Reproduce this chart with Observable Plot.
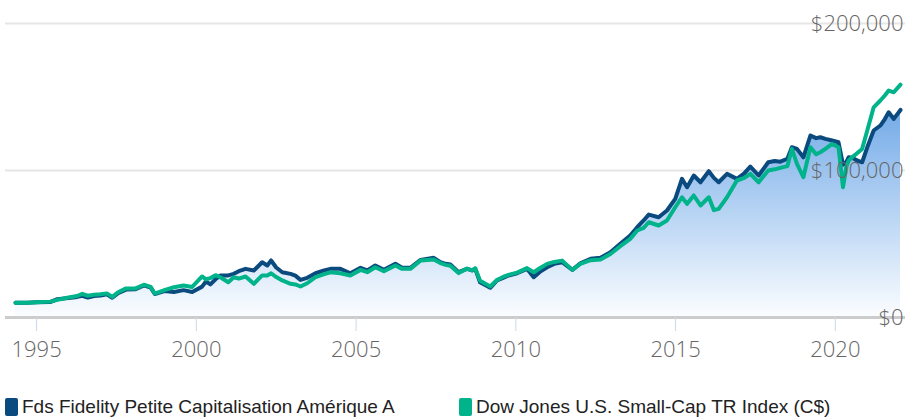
<!DOCTYPE html>
<html><head><meta charset="utf-8">
<script src="https://cdn.jsdelivr.net/npm/d3@7"></script>
<script src="https://cdn.jsdelivr.net/npm/@observablehq/plot@0.6"></script>
<style>
body{margin:0;background:#fff;width:905px;height:418px;position:relative;overflow:hidden}
#chart{position:absolute;left:0;top:0}
#legend{position:absolute;left:0;top:396px;width:905px;height:22px;font-family:"Liberation Sans",Arial,sans-serif;font-size:19px;color:#222}
.item{position:absolute;top:0;white-space:nowrap;display:flex;align-items:center;height:22px}
.sw{width:13px;height:18px;border-radius:2px;margin-right:4px;display:inline-block}
</style></head><body>
<div id="chart"></div>
<div id="legend"></div>
<script>
const years = [1994.34,1994.7,1995.0,1995.44,1995.65,1996.0,1996.27,1996.43,1996.6,1996.8,
1997.0,1997.2,1997.37,1997.55,1997.8,1998.1,1998.36,1998.57,1998.7,1999.0,
1999.3,1999.6,1999.87,2000.18,2000.3,2000.44,2000.6,2000.75,2001.0,2001.17,
2001.33,2001.54,2001.8,2002.06,2002.22,2002.34,2002.5,2002.69,2002.95,2003.1,
2003.26,2003.47,2003.73,2004.0,2004.2,2004.51,2004.82,2005.14,2005.35,2005.6,
2005.87,2006.23,2006.44,2006.7,2007.02,2007.43,2007.64,2007.8,2007.95,2008.21,
2008.47,2008.63,2008.73,2008.88,2009.2,2009.41,2009.6,2009.77,2010.04,2010.35,
2010.56,2010.75,2010.98,2011.2,2011.45,2011.77,2012.02,2012.34,2012.65,2012.96,
2013.27,2013.58,2013.8,2014.0,2014.16,2014.47,2014.73,2014.99,2015.2,2015.36,
2015.57,2015.78,2016.04,2016.2,2016.35,2016.61,2016.92,2017.15,2017.34,2017.6,
2017.9,2018.1,2018.28,2018.5,2018.64,2018.8,2019.0,2019.22,2019.4,2019.53,
2019.69,2019.9,2020.1,2020.24,2020.35,2020.42,2020.55,2020.68,2020.84,2021.0,
2021.2,2021.41,2021.55,2021.67,2021.83,2022.04];
// thousands of dollars
const fundValues = [10.0,10.1,10.3,10.6,12.5,13.2,14.0,14.8,13.6,14.6,
14.9,15.8,13.4,16.5,19.0,19.3,21.8,20.3,16.0,18.0,
17.4,18.6,17.4,21.0,24.5,22.5,26.0,28.5,28.6,29.7,
31.5,33.1,32.0,37.6,35.4,38.8,34.0,30.8,29.7,28.5,
25.6,27.0,30.1,32.0,33.1,33.1,30.1,33.8,32.0,35.4,
32.4,36.5,33.8,33.8,39.2,40.6,37.6,36.5,36.0,30.8,
33.1,32.0,33.1,24.0,20.2,25.2,27.0,28.6,30.1,33.1,
27.4,31.0,34.2,36.5,37.6,32.4,36.9,39.9,40.6,44.4,
50.1,55.8,61.4,66.0,70.0,68.2,72.8,80.7,94.3,88.6,
96.6,92.0,99.5,95.0,92.0,97.7,94.3,98.0,102.7,96.6,
105.6,106.5,106.0,108.0,115.8,114.7,109.0,123.8,122.0,122.6,
121.5,120.4,119.2,104.0,106.0,109.0,108.5,106.8,105.6,115.8,
127.2,130.6,135.0,139.6,135.1,141.2];
const indexValues = [10.0,10.1,10.4,10.8,12.0,13.6,14.6,16.1,14.8,15.5,
15.8,16.4,14.0,17.2,19.8,19.8,22.3,20.8,16.3,18.6,
20.6,21.8,20.8,27.9,26.0,26.8,28.8,27.4,24.0,27.4,
26.5,27.9,22.9,28.6,28.6,30.1,27.5,25.2,22.9,22.5,
21.1,23.3,27.4,29.5,30.8,30.1,28.6,32.4,30.8,34.2,
31.5,35.4,33.1,33.1,38.8,39.5,37.0,35.8,35.2,30.2,
33.3,32.0,33.5,25.0,21.1,25.5,27.6,29.0,30.5,33.6,
30.8,33.5,36.5,37.8,38.7,32.4,36.5,39.0,39.5,43.2,
48.5,53.5,59.2,61.0,64.8,62.6,66.0,75.0,81.8,77.3,
83.0,76.2,81.8,73.0,73.9,81.8,93.2,95.0,97.7,92.0,
100.0,100.8,101.8,103.0,114.7,104.5,95.4,115.8,111.0,112.4,
114.7,118.1,115.8,88.6,103.0,106.8,109.5,111.7,114.7,127.2,
143.0,147.6,151.0,154.4,153.2,158.4];
const xTicks = [1995,2000,2005,2010,2015,2020];
const yTicks = [0,100000,200000];
const seriesNames = ["Fds Fidelity Petite Capitalisation Amérique A","Dow Jones U.S. Small-Cap TR Index (C$)"];
const seriesColors = ["#0b4a7e","#00b38a"];

const fund = years.map((t,i)=>({t, v: fundValues[i]*1000}));
const idx = years.map((t,i)=>({t, v: indexValues[i]*1000}));
const fmt = d => "$" + d3.format(",")(d);

const plot = Plot.plot({
  width: 905, height: 375,
  marginTop: 23, marginBottom: 58, marginLeft: 15, marginRight: 5,
  x: {domain: [years[0], years[years.length-1]]},
  y: {domain: [0, 200000], axis: null},
  style: {fontFamily: "'Open Sans', sans-serif", fontSize: "22px", fontWeight: 300, color: "#666", background: "transparent", overflow: "visible"},
  marks: [
    Plot.ruleY([100000, 200000], {stroke: "#e6e6e6", strokeWidth: 2, insetLeft: -10, insetRight: -5}),
    Plot.areaY(fund, {x: "t", y: "v", fill: "url(#fundGrad)"}),
    Plot.ruleY([0], {stroke: "#cccccc", strokeWidth: 3, insetLeft: -10, insetRight: -5}),
    Plot.axisX({ticks: xTicks, tickSize: 14, tickPadding: 10, tickFormat: d => String(d), stroke: "#ccd6eb", fill: "#666", label: null, fontSize: 22}),
    Plot.line(fund, {x: "t", y: "v", stroke: seriesColors[0], strokeWidth: 4, strokeLinejoin: "round"}),
    Plot.line(idx, {x: "t", y: "v", stroke: seriesColors[1], strokeWidth: 4, strokeLinejoin: "round"}),
    Plot.text(yTicks, {y: d => d, frameAnchor: "right", textAnchor: "end", dx: 3, text: fmt, fill: "#666", fontSize: 22})
  ]
});
const defs = document.createElementNS("http://www.w3.org/2000/svg", "defs");
defs.innerHTML = '<linearGradient id="fundGrad" x1="0" y1="0" x2="0" y2="1"><stop offset="0" stop-color="#74abe8"/><stop offset="1" stop-color="#fbfdff"/></linearGradient>';
plot.prepend(defs);
document.getElementById("chart").appendChild(plot);

const legend = document.getElementById("legend");
const lefts = [5, 459];
seriesNames.forEach((name, i) => {
  const it = document.createElement("div");
  it.className = "item";
  it.style.left = lefts[i] + "px";
  const sw = document.createElement("span");
  sw.className = "sw";
  sw.style.background = seriesColors[i];
  it.appendChild(sw);
  it.appendChild(document.createTextNode(name));
  legend.appendChild(it);
});
</script>
</body></html>
